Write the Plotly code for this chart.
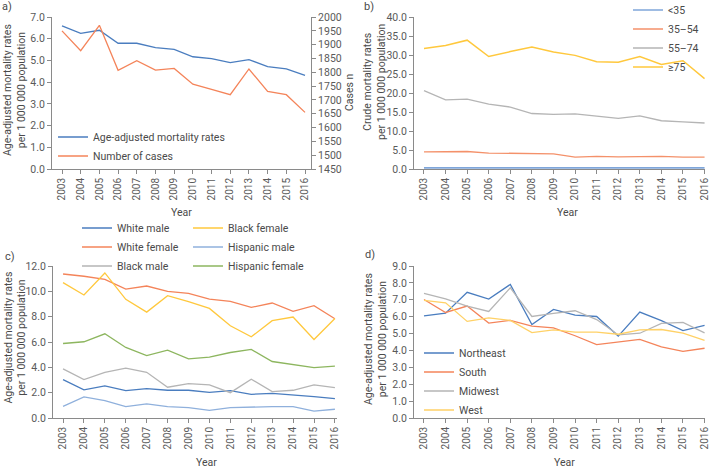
import plotly.graph_objects as go

years = list(range(2003, 2017))
year_labels = [str(y) for y in years]

# Panel a
a_rate = [6.59, 6.25, 6.39, 5.79, 5.79, 5.59, 5.51, 5.17, 5.08, 4.90, 5.04, 4.71, 4.61, 4.31]
a_cases = [1950, 1878, 1970, 1807, 1842, 1808, 1814, 1757, 1738, 1719, 1812, 1731, 1719, 1655]

# Panel b (crude mortality by age group)
b_lt35 = [0.3, 0.3, 0.3, 0.3, 0.3, 0.3, 0.3, 0.3, 0.3, 0.3, 0.3, 0.3, 0.3, 0.3]
b_35_54 = [4.5, 4.6, 4.6, 4.2, 4.1, 4.1, 4.0, 3.1, 3.3, 3.2, 3.3, 3.3, 3.1, 3.1]
b_55_74 = [20.6, 18.2, 18.4, 17.1, 16.3, 14.6, 14.4, 14.5, 13.9, 13.3, 14.0, 12.7, 12.4, 12.1]
b_ge75 = [31.7, 32.5, 33.9, 29.6, 30.9, 32.1, 30.8, 29.9, 28.2, 28.1, 29.6, 27.5, 28.5, 23.8]

# Panel c (race / sex)
c_white_male = [3.03, 2.22, 2.53, 2.16, 2.32, 2.19, 2.19, 2.03, 2.16, 1.87, 1.95, 1.85, 1.69, 1.53]
c_white_female = [11.37, 11.19, 10.95, 10.18, 10.42, 10.0, 9.84, 9.39, 9.21, 8.73, 9.08, 8.42, 8.87, 7.84]
c_black_male = [3.88, 3.03, 3.61, 3.93, 3.61, 2.43, 2.72, 2.61, 2.0, 3.06, 2.08, 2.19, 2.61, 2.40]
c_black_female = [10.69, 9.71, 11.45, 9.37, 8.36, 9.66, 9.18, 8.65, 7.28, 6.41, 7.68, 7.97, 6.20, 7.86]
c_hisp_male = [0.92, 1.66, 1.37, 0.90, 1.11, 0.90, 0.82, 0.61, 0.82, 0.87, 0.90, 0.90, 0.55, 0.69]
c_hisp_female = [5.88, 6.02, 6.65, 5.57, 4.93, 5.36, 4.67, 4.80, 5.17, 5.41, 4.46, 4.22, 3.98, 4.09]

# Panel d (region)
d_northeast = [6.05, 6.21, 7.44, 7.04, 7.91, 5.54, 6.43, 6.09, 6.01, 4.85, 6.27, 5.76, 5.18, 5.48]
d_south = [7.02, 6.25, 6.63, 5.62, 5.78, 5.44, 5.34, 4.87, 4.35, 4.51, 4.65, 4.21, 3.94, 4.13]
d_midwest = [7.38, 7.06, 6.63, 6.31, 7.71, 6.01, 6.19, 6.35, 5.83, 4.92, 5.02, 5.60, 5.66, 5.04]
d_west = [6.96, 6.82, 5.72, 5.93, 5.78, 5.06, 5.22, 5.08, 5.08, 4.96, 5.22, 5.24, 5.02, 4.59]

W, H = 716, 470
FONT = "Roboto"
FS = 10.5
TFS = 10
TICKC = "#5a5a5a"
TITLEC = "#4a4a4a"
AXC = "#8a8a8a"

BLUE = "#4a7dbf"
ORANGE = "#f4845a"
GRAY = "#b5b5b5"
YELLOW = "#ffc83d"
LBLUE = "#8fb0dc"
GREEN = "#8db65f"

fig = go.Figure()

def add(x, y, name, color, xa, ya, legend, width=1.3):
    fig.add_trace(go.Scatter(x=x, y=y, name=name, mode="lines",
                             line=dict(color=color, width=width),
                             xaxis=xa, yaxis=ya, legend=legend))

# a
add(years, a_rate, "Age-adjusted mortality rates", BLUE, "x", "y", "legend")
add(years, a_cases, "Number of cases", ORANGE, "x", "y5", "legend")
# b
add(years, b_lt35, "<35", "#7fa6da", "x2", "y2", "legend2", 1.6)
add(years, b_35_54, "35–54", "#f4916a", "x2", "y2", "legend2")
add(years, b_55_74, "55–74", GRAY, "x2", "y2", "legend2")
add(years, b_ge75, "≥75", YELLOW, "x2", "y2", "legend2", 1.5)
# c
add(years, c_white_male, "White male", BLUE, "x3", "y3", "legend3")
add(years, c_white_female, "White female", ORANGE, "x3", "y3", "legend3")
add(years, c_black_male, "Black male", GRAY, "x3", "y3", "legend3")
add(years, c_black_female, "Black female", YELLOW, "x3", "y3", "legend4")
add(years, c_hisp_male, "Hispanic male", LBLUE, "x3", "y3", "legend4")
add(years, c_hisp_female, "Hispanic female", GREEN, "x3", "y3", "legend4")
# d
add(years, d_northeast, "Northeast", BLUE, "x4", "y4", "legend5")
add(years, d_south, "South", ORANGE, "x4", "y4", "legend5")
add(years, d_midwest, "Midwest", GRAY, "x4", "y4", "legend5")
add(years, d_west, "West", "#ffd166", "x4", "y4", "legend5")

def px(x):
    return x / W

def py(y):
    return 1 - y / H

def xaxis(domain, rng, anchor):
    return dict(domain=domain, range=rng, anchor=anchor, tickmode="array",
                tickvals=years, ticktext=year_labels, tickangle=-90,
                ticks="outside", ticklen=4, tickcolor=AXC, showline=True,
                linecolor=AXC, linewidth=1, showgrid=False, zeroline=False,
                ticklabeloverflow="allow",
                tickfont=dict(family=FONT, size=TFS, color=TICKC))

def yaxis(domain, rng, dtick, anchor, fmt=".1f"):
    return dict(domain=domain, range=rng, dtick=dtick, tick0=0, anchor=anchor,
                ticks="outside", ticklen=4, tickcolor=AXC, showline=True,
                linecolor=AXC, linewidth=1, showgrid=False, zeroline=False,
                ticklabeloverflow="allow",
                tickformat=fmt, tickfont=dict(family=FONT, size=FS, color=TICKC))

top_y = [py(169), py(17)]
bot_y = [py(418), py(266)]

layout = dict(
    width=W, height=H, margin=dict(l=0, r=0, t=0, b=0, autoexpand=False),
    paper_bgcolor="white", plot_bgcolor="white",
    font=dict(family=FONT, size=FS, color=TITLEC),
    xaxis=xaxis([px(52), px(311)], [2002.465, 2016.32], "y"),
    yaxis=yaxis(top_y, [0, 7], 1, "x"),
    yaxis5=dict(overlaying="y", side="right", anchor="x", range=[1450, 2000], dtick=50,
                tick0=1450, ticks="outside", ticklen=4, tickcolor=AXC, showline=True,
                linecolor=AXC, linewidth=1, showgrid=False, zeroline=False,
                ticklabeloverflow="allow",
                tickfont=dict(family=FONT, size=FS, color=TICKC)),
    xaxis2=xaxis([px(414), px(705)], [2002.537, 2016.02], "y2"),
    yaxis2=yaxis(top_y, [0, 40], 5, "x2"),
    xaxis3=xaxis([px(53), px(337)], [2002.52, 2016.1], "y3"),
    yaxis3=yaxis(bot_y, [0, 12], 2, "x3"),
    xaxis4=xaxis([px(414), px(705)], [2002.537, 2016.02], "y4"),
    yaxis4=yaxis(bot_y, [0, 9], 1, "x4"),
)

def leg(x, y):
    return dict(x=x, y=y, xanchor="left", yanchor="top", bgcolor="rgba(0,0,0,0)",
                borderwidth=0, font=dict(family=FONT, size=FS, color=TITLEC),
                traceorder="normal")

layout["legend"] = leg(px(53), py(122.5))
layout["legend2"] = leg(px(628), py(-4.5))
layout["legend3"] = leg(px(77), py(213.5))
layout["legend4"] = leg(px(188), py(213.5))
layout["legend5"] = leg(px(419), py(338.5))

fig.update_layout(**layout)

def note(text, x, y, angle=0, size=FS, xanchor="center", yanchor="middle"):
    fig.add_annotation(text=text, x=px(x), y=py(y), xref="paper", yref="paper",
                       showarrow=False, textangle=angle, xanchor=xanchor,
                       yanchor=yanchor, font=dict(family=FONT, size=size, color=TITLEC))

ytitle = "Age-adjusted mortality rates<br>per 1 000 000 population"
note("a)", 7, 7, size=11)
note("b)", 369, 7, size=11)
note("c)", 10, 256, size=11)
note("d)", 370, 255, size=11)
note(ytitle, 15, 90, angle=-90)
note("Crude mortality rates<br>per 1 000 000 population", 374, 82, angle=-90)
note(ytitle, 14.5, 338, angle=-90)
note(ytitle, 375, 339, angle=-90)
note("Cases n", 349, 92, angle=-90)
note("Year", 181, 212)
note("Year", 567, 212)
note("Year", 206, 462)
note("Year", 564, 462)

fig.write_html("out.html", config={"displayModeBar": False},
               post_script="document.body.style.margin='0px';")
